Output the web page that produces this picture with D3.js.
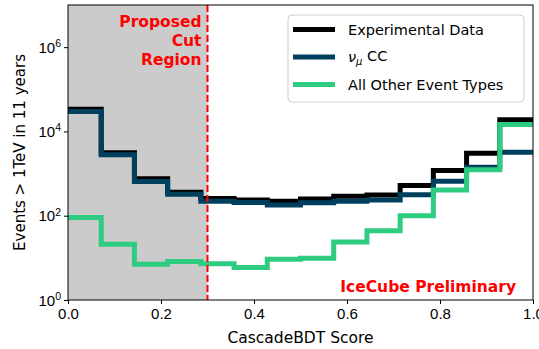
<!DOCTYPE html>
<html>
<head>
<meta charset="utf-8">
<script src="https://cdn.jsdelivr.net/npm/d3@7"></script>
<style>
  body { margin: 0; background: #fff; }
  svg { font-family: "DejaVu Sans", sans-serif; }
</style>
</head>
<body>
<svg id="chart" width="539" height="349"></svg>
<script>
// Bin edges of the CascadeBDT score histogram (14 equal bins)
const binEdges = d3.range(15).map(i => i / 14);

// Events per bin
const experimental = [33400, 3100, 750, 360, 257, 236, 219, 250, 291, 311, 518, 1180, 3040, 19000];
const numuCC = [29900, 2790, 645, 322, 221, 207, 180, 204, 221, 236, 316, 656, 1413, 3214];
const otherTypes = [91, 21, 7.1, 8.2, 7.2, 5.9, 9.3, 9.8, 23.7, 44, 100, 409, 1225, 14700];

const xTicks = [0, 0.2, 0.4, 0.6, 0.8, 1.0];
const yTicks = [1, 1e2, 1e4, 1e6];
const cutValue = 0.3;

const series = [
    { name: "Experimental Data", values: experimental, color: "#000000" },
    { name: "νμ CC", values: numuCC, color: "#00405e" },
    { name: "All Other Event Types", values: otherTypes, color: "#2ecc80" }
];

const svg = d3.select("#chart");
const margin = { top: 5, right: 6, bottom: 49, left: 68 };
const width = 539 - margin.left - margin.right;
const height = 349 - margin.top - margin.bottom;

const g = svg.append("g")
    .attr("transform", `translate(${margin.left},${margin.top})`);

const x = d3.scaleLinear().domain([0, 1]).range([0, width]);
const y = d3.scaleLog().domain([1, 1e7]).range([height, 0]);

svg.append("defs").append("clipPath").attr("id", "plotClip")
    .append("rect").attr("width", width).attr("height", height);

// Shaded cut region
g.append("rect")
    .attr("x", x(0))
    .attr("y", 0)
    .attr("width", x(cutValue) - x(0))
    .attr("height", height)
    .attr("fill", "#cbcbcb");

// Step lines
const line = d3.line()
    .x(d => x(d[0]))
    .y(d => y(d[1]))
    .curve(d3.curveStepAfter);

const plot = g.append("g").attr("clip-path", "url(#plotClip)");

series.forEach(s => {
    const pts = s.values.map((v, i) => [binEdges[i], v]);
    pts.push([binEdges[binEdges.length - 1], s.values[s.values.length - 1]]);
    plot.append("path")
        .datum(pts)
        .attr("fill", "none")
        .attr("stroke", s.color)
        .attr("stroke-width", 5)
        .attr("stroke-linejoin", "miter")
        .attr("d", line);
});

// Cut line
g.append("line")
    .attr("x1", x(cutValue)).attr("x2", x(cutValue))
    .attr("y1", 0).attr("y2", height)
    .attr("stroke", "#ff0000")
    .attr("stroke-width", 2)
    .attr("stroke-dasharray", "7,3");

// Annotation text
const cutLabel = g.append("text")
    .attr("text-anchor", "end")
    .attr("fill", "#ff0000")
    .style("font-size", "15.5px")
    .style("font-weight", "bold");
["Proposed", "Cut", "Region"].forEach((t, i) => {
    cutLabel.append("tspan")
        .attr("x", x(cutValue) - 6)
        .attr("y", 22 + i * 19)
        .text(t);
});

g.append("text")
    .attr("x", x(1) - 17)
    .attr("y", height - 8)
    .attr("text-anchor", "end")
    .attr("fill", "#ff0000")
    .style("font-size", "15.5px")
    .style("font-weight", "bold")
    .text("IceCube Preliminary");

// Axes
const xAxis = g.append("g")
    .attr("transform", `translate(0,${height})`)
    .call(d3.axisBottom(x).tickValues(xTicks).tickFormat(d3.format(".1f")).tickSize(4).tickPadding(4));

const yAxis = g.append("g")
    .call(d3.axisLeft(y).tickValues(yTicks).tickFormat("").tickSize(4));

yAxis.selectAll(".tick").each(function(d) {
    const t = d3.select(this).append("text")
        .attr("x", -7)
        .attr("dy", "0.35em")
        .attr("text-anchor", "end")
        .attr("fill", "#000")
        .style("font-size", "15px");
    t.append("tspan").text("10");
    t.append("tspan")
        .attr("dy", "-0.55em")
        .style("font-size", "10.5px")
        .text(Math.round(Math.log10(d)));
});

g.selectAll(".domain").remove();
g.selectAll(".tick line").attr("stroke", "#000");
xAxis.selectAll("text").style("font-size", "15px").attr("fill", "#000");

// Frame
g.append("rect")
    .attr("width", width).attr("height", height)
    .attr("fill", "none")
    .attr("stroke", "#000")
    .attr("stroke-width", 1);

// Axis labels
svg.append("text")
    .attr("x", margin.left + width / 2)
    .attr("y", 343)
    .attr("text-anchor", "middle")
    .style("font-size", "15.5px")
    .text("CascadeBDT Score");

svg.append("text")
    .attr("transform", `translate(25,${margin.top + height / 2}) rotate(-90)`)
    .attr("text-anchor", "middle")
    .style("font-size", "15px")
    .text("Events > 1TeV in 11 years");

// Legend
const legend = svg.append("g").attr("transform", "translate(288,15)");
legend.append("rect")
    .attr("width", 236).attr("height", 87)
    .attr("rx", 4)
    .attr("fill", "#fff")
    .attr("fill-opacity", 0.8)
    .attr("stroke", "#d0d0d0");

series.forEach((s, i) => {
    const ly = 14.5 + i * 27.5;
    legend.append("line")
        .attr("x1", 5).attr("x2", 47)
        .attr("y1", ly).attr("y2", ly)
        .attr("stroke", s.color)
        .attr("stroke-width", 5);
    const t = legend.append("text")
        .attr("x", 60)
        .attr("y", ly)
        .attr("dy", "0.35em")
        .style("font-size", "14.5px");
    if (i === 1) {
        t.append("tspan").style("font-style", "italic").text("ν");
        t.append("tspan").attr("dy", "0.3em").style("font-size", "10px").style("font-style", "italic").text("μ");
        t.append("tspan").attr("dy", "-0.3em").text(" CC");
    } else {
        t.text(s.name);
    }
});
</script>
</body>
</html>
